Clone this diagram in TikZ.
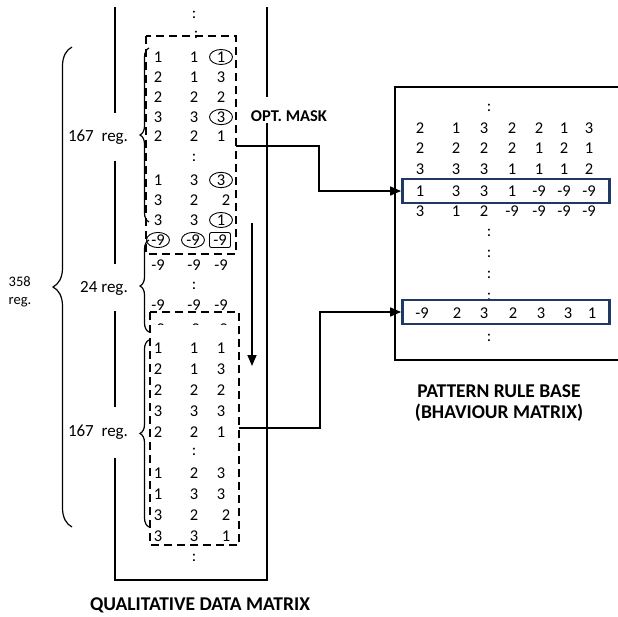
\documentclass[tikz,border=0pt]{standalone}
\usepackage{fontspec}
\setmainfont{Carlito}
\usetikzlibrary{arrows.meta,decorations.pathreplacing,shapes.geometric}
\definecolor{rulenavy}{RGB}{31,56,100}

\begin{document}
\begin{tikzpicture}[x=1pt,y=-1pt,
  val/.style={font=\fontsize{16.5}{16.5}\selectfont,inner sep=0pt},
  circ/.style={val,draw,ellipse,minimum width=23pt,minimum height=15pt,line width=0.9pt},
  sqr/.style={val,draw,rounded corners=2pt,minimum width=21pt,minimum height=15pt,line width=0.9pt},
  reglab/.style={font=\fontsize{17}{17}\selectfont,fill=white,inner xsep=1pt},
  title/.style={font=\bfseries\fontsize{19.5}{21}\selectfont,align=center},
  mask/.style={line width=1.9pt,dash pattern=on 8pt off 5pt},
  frame/.style={line width=1.4pt},
  conn/.style={line width=1.6pt,-{Triangle[length=11pt,width=9pt]}},
  hl/.style={draw=rulenavy,line width=2.8pt,fill=white,minimum width=207pt,minimum height=24pt,inner sep=0pt},
  brc/.style={decorate,decoration={brace,amplitude=#1},line width=1.2pt}]
\useasboundingbox (0,0) rectangle (618,617);

% data matrix frame
\draw[frame] (115,7) -- (115,580) -- (267,580) -- (267,7);
% rule base frame
\draw[frame] (618,87) -- (395,87) -- (395,360) -- (618,360);

% qualitative data matrix
\node[val] (q0) at (194,15) {:};
\node[val] (q1) at (196,35) {:};
\foreach \y/\a/\b/\c/\s in {57/1/1/1/circ,77/2/1/3/val,97/2/2/2/val,117/3/3/3/circ,136/2/2/1/val,
  180/1/3/3/circ,220/3/3/1/circ,265/-9/-9/-9/val,305/-9/-9/-9/val,
  348/1/1/1/val,369/2/1/3/val,390/2/2/2/val,411/3/3/3/val,432/2/2/1/val,473/1/2/3/val,494/1/3/3/val}{
  \node[val] (qa\y) at (158,\y) {\a};
  \node[val] (qb\y) at (194,\y) {\b};
  \node[\s] (qc\y) at (221,\y) {\c};
}
\foreach \y/\a/\b/\c in {200/3/2/2,515/3/2/2,536/3/3/1}{
  \node[val] (qa\y) at (158,\y) {\a};
  \node[val] (qb\y) at (194,\y) {\b};
  \node[val] (qc\y) at (226,\y) {\c};
}
\node[circ] (qa240) at (158,240) {-9};
\node[circ] (qb240) at (193,240) {-9};
\node[sqr] (qc240) at (220,240) {-9};
\node[val] (q2) at (194,158) {:};
\node[val] (q3) at (194,286) {:};
\node[val] (q4) at (194,452) {:};
\node[val] (q5) at (194,558) {:};
\begin{scope}
\clip (140,300) rectangle (245,325);
\node[val] (qa327) at (158,329) {-9};
\node[val] (qb327) at (193,329) {-9};
\node[val] (qc327) at (221,329) {-9};
\end{scope}

% masks
\draw[mask] (146,36) rectangle (236,254);
\draw[mask] (150,312) rectangle (239,545);

% braces
\draw[brc=9pt] (149,222) -- (149,48);
\draw[brc=9pt] (149,332) -- (149,240);
\draw[brc=9pt] (149,527) -- (149,340);
\draw[brc=19pt] (72,527) -- (72,47);

% labels
\node[reglab,minimum height=48pt] (r1) at (98,137) {167\ \ reg.};
\node[reglab,minimum height=47pt] (r2) at (104,288) {24 reg.};
\node[reglab,minimum height=51pt] (r3) at (98,432) {167\ \ reg.};
\node[font=\fontsize{14.5}{18}\selectfont,align=left] (r4) at (20,292) {358\\reg.};
\node[font=\bfseries\fontsize{16.5}{16.5}\selectfont,fill=white,anchor=base,
  text height=24pt,text depth=0pt,inner ysep=1pt,inner xsep=1pt] (om) at (289,122) {OPT. MASK};

% pattern rule base
\node[val] (p0) at (489,108) {:};
\foreach \y/\a/\b/\c/\d/\e/\f/\g in {128/2/1/3/2/2/1/3,148/2/2/2/2/1/2/1,169/3/3/3/1/1/1/2,211/3/1/2/-9/-9/-9/-9}{
  \node[val] (pa\y) at (420,\y) {\a};
  \node[val] (pb\y) at (456,\y) {\b};
  \node[val] (pc\y) at (484,\y) {\c};
  \node[val] (pd\y) at (512,\y) {\d};
  \node[val] (pe\y) at (539,\y) {\e};
  \node[val] (pf\y) at (564,\y) {\f};
  \node[val] (pg\y) at (589,\y) {\g};
}
\node[val] (p1) at (489,233) {:};
\node[val] (p2) at (489,254) {:};
\node[val] (p3) at (489,275) {:};
\node[val] (p4) at (489,297) {:};
\node[val] (p5) at (489,338) {:};
\node[hl] (hl1) at (506,191) {};
\node[hl] (hl2) at (506,312) {};
\foreach \x/\v [count=\i] in {420/1,456/3,484/3,512/1,539/-9,564/-9,589/-9}
  \node[val] (h1\i) at (\x,191) {\v};
\foreach \x/\v [count=\i] in {422/-9,457/2,484/3,513/2,541/3,568/3,592/1}
  \node[val] (h2\i) at (\x,313) {\v};

% connectors
\coordinate (m1) at (236,146);
\coordinate (m2) at (239,428);
\coordinate (s1) at (252,223);
\coordinate (s2) at (252,366);
\draw[conn] (m1) -- (319,146) |- (hl1.west);
\draw[conn] (m2) -- (320,428) |- (hl2.west);
\draw[conn] (s1) -- (s2);

\node[title] (t1) at (200,605) {QUALITATIVE DATA MATRIX};
\node[title] (t2) at (499,403) {PATTERN RULE BASE\\(BHAVIOUR MATRIX)};
\end{tikzpicture}
\end{document}
